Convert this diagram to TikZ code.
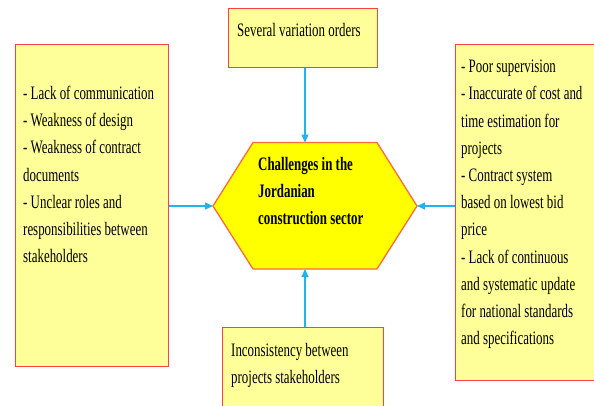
\documentclass[tikz,border=0pt]{standalone}
\usepackage{fontspec}
\newfontfamily\cond[FakeStretch=0.68]{Liberation Serif}
\usetikzlibrary{arrows.meta}
\definecolor{boxfill}{HTML}{FFFF99}
\definecolor{boxline}{HTML}{FF4040}
\definecolor{hexfill}{HTML}{FFFF00}
\definecolor{hexline}{HTML}{FF6A3A}
\definecolor{arrowblue}{HTML}{20B4EE}
\tikzset{
  boxstyle/.style={draw=boxline, fill=boxfill, line width=1.3pt, inner sep=0pt},
  txt/.style={inner sep=0pt, anchor=north west, align=left, font=\cond\fontsize{19}{27.2}\selectfont},
  conn/.style={draw=arrowblue, line width=1.1pt, -{Triangle[length=8pt,width=7pt]}}
}
\begin{document}
\begin{tikzpicture}[x=1pt,y=-1pt]
\useasboundingbox (0,0) rectangle (594,405);
\clip (0,0) rectangle (594,405);
% boxes
\node[boxstyle, minimum width=153pt, minimum height=322pt, anchor=north west] (left) at (15,44) {};
\node[boxstyle, minimum width=160pt, minimum height=336pt, anchor=north west] (right) at (455,44) {};
\node[boxstyle, minimum width=149pt, minimum height=59pt, anchor=north west] (top) at (228,8) {};
\node[boxstyle, minimum width=161pt, minimum height=100pt, anchor=north west] (bottom) at (222,327) {};
% hexagon
\coordinate (hL) at (213,206);
\coordinate (hR) at (417,206);
\coordinate (hT) at (305,142.5);
\coordinate (hB) at (305,269);
\draw[draw=hexline, fill=hexfill, line width=1.3pt]
  (hL) -- (253,142.5) -- (377,142.5) -- (hR) -- (377,269) -- (253,269) -- cycle;
% texts
\node[txt] (lefttxt) at (23,86) {- Lack of communication\\- Weakness of design\\- Weakness of contract\\documents\\- Unclear roles and\\responsibilities between\\stakeholders};
\node[txt] (righttxt) at (461,60) {- Poor supervision\\- Inaccurate of cost and\\time estimation for\\projects\\- Contract system\\based on lowest bid\\price\\- Lack of continuous\\and systematic update\\for national standards\\and specifications};
\node[txt] (toptxt) at (237,23) {Several variation orders};
\node[txt] (bottomtxt) at (231,343) {Inconsistency between\\projects stakeholders};
\node[txt, font=\cond\bfseries\fontsize{19}{27}\selectfont] (hextxt) at (258,157) {Challenges in the\\Jordanian\\construction sector};
% connectors
\draw[conn] (top.south -| hT) -- (hT);
\draw[conn] (bottom.north -| hB) -- (hB);
\draw[conn] (left.east |- hL) -- (hL);
\draw[conn] (right.west |- hR) -- (hR);
\end{tikzpicture}
\end{document}
